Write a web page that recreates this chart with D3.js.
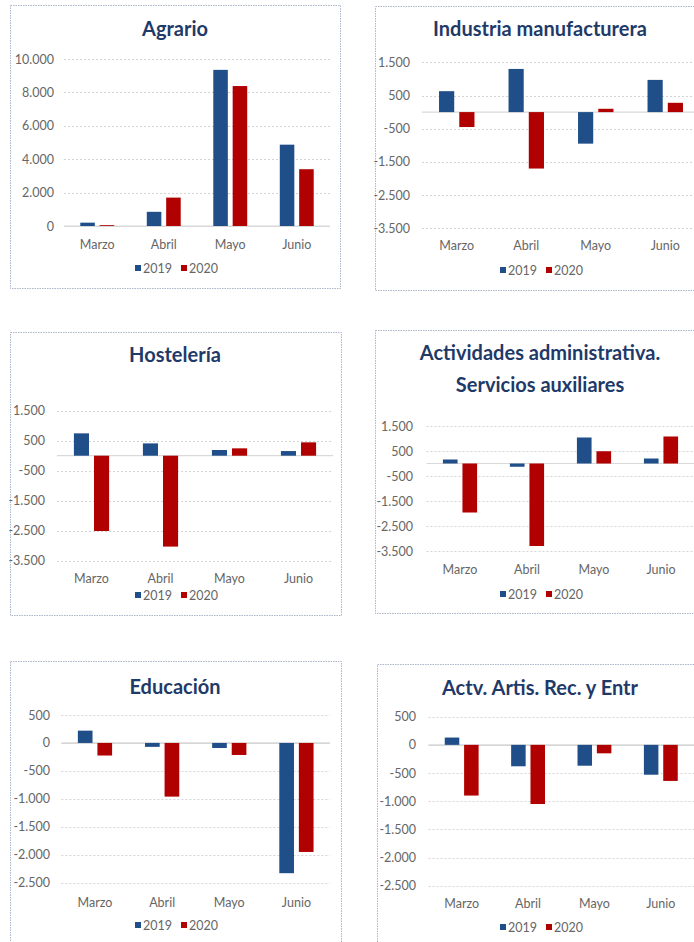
<!DOCTYPE html>
<html>
<head>
<meta charset="utf-8">
<script src="https://cdn.jsdelivr.net/npm/d3@7"></script>
<style>
  body { margin: 0; background: #fff; }
  svg { display: block; font-family: Lato, "Open Sans", sans-serif; }
</style>
</head>
<body>
<script>
var months = ["Marzo", "Abril", "Mayo", "Junio"];
var years = ["2019", "2020"];

var agrario2019 = [200, 850, 9350, 4870];
var agrario2020 = [50, 1700, 8380, 3400];
var industria2019 = [630, 1300, -950, 970];
var industria2020 = [-450, -1700, 100, 280];
var hosteleria2019 = [745, 410, 190, 155];
var hosteleria2020 = [-2510, -3030, 245, 445];
var administrativas2019 = [160, -130, 1040, 200];
var administrativas2020 = [-1960, -3300, 490, 1080];
var educacion2019 = [220, -70, -90, -2330];
var educacion2020 = [-225, -960, -215, -1950];
var artisticas2019 = [130, -380, -370, -530];
var artisticas2020 = [-900, -1050, -150, -640];

var ticksAgrario = [0, 2000, 4000, 6000, 8000, 10000];
var ticksWide = [-3500, -2500, -1500, -500, 500, 1500];
var ticksNarrow = [-2500, -2000, -1500, -1000, -500, 0, 500];

var colors = {"2019": "#1f4e89", "2020": "#b00000"};
var titleColor = "#1f3a68";
var textColor = "#666";

var locale = d3.formatLocale({decimal: ",", thousands: ".", grouping: [3], currency: ["", "€"], minus: "-"});
var fmt = locale.format(",d");

var svg = d3.select("body").append("svg")
    .attr("width", 694)
    .attr("height", 942);

// layout of each panel (box, title, plot area)
var panels = [
  {title: ["Agrario"], s2019: agrario2019, s2020: agrario2020, ticks: ticksAgrario,
   box: [10, 5, 330, 283], cx: 175, titleY: [36], left: 64, right: 330, top: 59, bottom: 226,
   labelX: 54, catY: 249, legendY: 270},
  {title: ["Industria manufacturera"], s2019: industria2019, s2020: industria2020, ticks: ticksWide,
   box: [375, 6, 340, 284], cx: 540, titleY: [36], left: 422, right: 700, top: 62.3, bottom: 228.3,
   labelX: 410, catY: 250, legendY: 272},
  {title: ["Hostelería"], s2019: hosteleria2019, s2020: hosteleria2020, ticks: ticksWide,
   box: [10, 332, 331, 283], cx: 175, titleY: [362], left: 57, right: 333, top: 410.7, bottom: 560.7,
   labelX: 45, catY: 583, legendY: 597},
  {title: ["Actividades administrativa.", "Servicios auxiliares"], s2019: administrativas2019, s2020: administrativas2020, ticks: ticksWide,
   box: [375, 330, 340, 283], cx: 540, titleY: [360, 392], left: 426.5, right: 694.5, top: 426, bottom: 551,
   labelX: 413, catY: 574, legendY: 596},
  {title: ["Educación"], s2019: educacion2019, s2020: educacion2020, ticks: ticksNarrow,
   box: [10, 661, 331, 300], cx: 175, titleY: [694], left: 61.4, right: 330, top: 715, bottom: 882.7,
   labelX: 50, catY: 907, legendY: 927},
  {title: ["Actv. Artis. Rec. y Entr"], s2019: artisticas2019, s2020: artisticas2020, ticks: ticksNarrow,
   box: [377, 664, 340, 300], cx: 540, titleY: [695], left: 428.5, right: 694, top: 716.7, bottom: 885.7,
   labelX: 416, catY: 908, legendY: 929}
];

panels.forEach(function(p) {
  var g = svg.append("g");

  g.append("rect")
      .attr("x", p.box[0] + 0.5)
      .attr("y", p.box[1] + 0.5)
      .attr("width", p.box[2])
      .attr("height", p.box[3])
      .attr("fill", "none")
      .attr("stroke", "#a9b7c8")
      .attr("stroke-width", 1)
      .attr("stroke-dasharray", "1.5,1");

  p.title.forEach(function(t, i) {
    g.append("text")
        .attr("x", p.cx)
        .attr("y", p.titleY[i])
        .attr("text-anchor", "middle")
        .attr("fill", titleColor)
        .style("font-size", "20px")
        .style("font-weight", "bold")
        .text(t);
  });

  var y = d3.scaleLinear()
      .domain(d3.extent(p.ticks))
      .range([p.bottom, p.top]);

  var x0 = d3.scaleBand()
      .domain(months)
      .range([p.left, p.right]);

  var groupW = x0.bandwidth() * 0.51;
  var x1 = d3.scaleBand()
      .domain(years)
      .range([-groupW / 2, groupW / 2])
      .paddingInner(0.25);

  // gridlines
  g.selectAll(".grid")
      .data(p.ticks)
    .enter().append("line")
      .attr("x1", p.left)
      .attr("x2", p.right)
      .attr("y1", function(d) { return Math.round(y(d)) + 0.5; })
      .attr("y2", function(d) { return Math.round(y(d)) + 0.5; })
      .attr("stroke", "#d4d4d4")
      .attr("stroke-width", 1)
      .attr("stroke-dasharray", function(d) { return d === 0 ? null : "2,2"; });

  // zero line
  g.append("line")
      .attr("x1", p.left)
      .attr("x2", p.right)
      .attr("y1", y(0))
      .attr("y2", y(0))
      .attr("stroke", "#d9d9d9")
      .attr("stroke-width", 1.2);

  var yAxis = d3.axisLeft(y)
      .tickValues(p.ticks)
      .tickSize(0)
      .tickPadding(0)
      .tickFormat(fmt);

  var ax = g.append("g")
      .attr("transform", "translate(" + p.labelX + ",0)")
      .call(yAxis);
  ax.select(".domain").remove();
  ax.selectAll("text")
      .attr("fill", textColor)
      .style("font-family", "Lato, sans-serif")
      .style("font-size", "12.5px");

  var series = {"2019": p.s2019, "2020": p.s2020};

  years.forEach(function(yr) {
    g.selectAll(".bar" + yr)
        .data(series[yr])
      .enter().append("rect")
        .attr("x", function(d, i) { return x0(months[i]) + x0.bandwidth() / 2 + x1(yr); })
        .attr("width", x1.bandwidth())
        .attr("y", function(d) { return y(Math.max(0, d)); })
        .attr("height", function(d) { return Math.abs(y(d) - y(0)); })
        .attr("fill", colors[yr]);
  });

  g.selectAll(".cat")
      .data(months)
    .enter().append("text")
      .attr("x", function(d) { return x0(d) + x0.bandwidth() / 2; })
      .attr("y", p.catY)
      .attr("text-anchor", "middle")
      .attr("fill", textColor)
      .style("font-size", "12.5px")
      .text(function(d) { return d; });

  // legend
  var lg = g.append("g")
      .attr("transform", "translate(" + (p.cx - 40) + "," + p.legendY + ")");
  years.forEach(function(yr, i) {
    var item = lg.append("g").attr("transform", "translate(" + (i * 46) + ",0)");
    item.append("rect")
        .attr("x", 0)
        .attr("y", -5)
        .attr("width", 6)
        .attr("height", 6)
        .attr("fill", colors[yr]);
    item.append("text")
        .attr("x", 8)
        .attr("y", 3)
        .attr("fill", textColor)
        .style("font-size", "12.5px")
        .text(yr);
  });
});
</script>
</body>
</html>
